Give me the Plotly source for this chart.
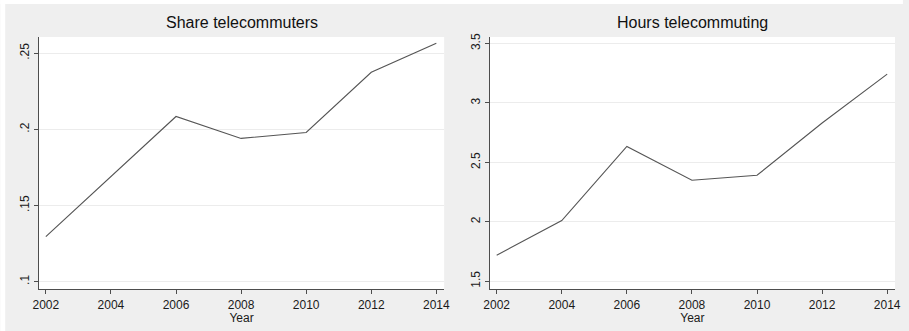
import plotly.graph_objects as go
from plotly.subplots import make_subplots

# Survey years and the two telecommuting series
years = [2002, 2004, 2006, 2008, 2010, 2012, 2014]
share_telecommuters = [0.1296, 0.169, 0.2085, 0.1941, 0.198, 0.2375, 0.2566]
hours_telecommuting = [1.718, 2.01, 2.634, 2.349, 2.391, 2.831, 3.243]

panel_titles = ["Share telecommuters", "Hours telecommuting"]
x_ticks = [2002, 2004, 2006, 2008, 2010, 2012, 2014]
share_ticks = [0.10, 0.15, 0.20, 0.25]
share_labels = [".1", ".15", ".2", ".25"]
hours_ticks = [1.5, 2.0, 2.5, 3.0, 3.5]
hours_labels = ["1.5", "2", "2.5", "3", "3.5"]

BG = "#efefef"
AXIS = "#4d4d4d"
LINE = "#555555"
GRID = "#ececec"
FONT = "Liberation Sans, Arial, sans-serif"

fig = make_subplots(rows=1, cols=2, horizontal_spacing=0.0534)

fig.add_trace(go.Scatter(x=years, y=share_telecommuters, mode="lines",
                         line=dict(color=LINE, width=1.1), showlegend=False),
              row=1, col=1)
fig.add_trace(go.Scatter(x=years, y=hours_telecommuting, mode="lines",
                         line=dict(color=LINE, width=1.1), showlegend=False),
              row=1, col=2)

common_x = dict(range=[2001.79, 2014.24], tickvals=x_ticks, ticks="outside",
                ticklen=4, tickcolor=AXIS, showline=True, linecolor=AXIS,
                linewidth=1.2, showgrid=False, zeroline=False,
                tickfont=dict(family=FONT, size=12, color="#1a1a1a"),
                title=dict(text="Year", standoff=0,
                           font=dict(family=FONT, size=12, color="#1a1a1a")))
common_y = dict(ticks="outside", ticklen=4, tickcolor=AXIS, showline=True,
                linecolor=AXIS, linewidth=1.2, showgrid=True, gridcolor=GRID,
                gridwidth=1, zeroline=False, tickangle=-90,
                tickfont=dict(family=FONT, size=12, color="#1a1a1a"))

fig.update_xaxes(domain=[0, 0.4733], **common_x, row=1, col=1)
fig.update_xaxes(domain=[0.5267, 1], **common_x, row=1, col=2)
fig.update_yaxes(range=[0.0952, 0.2607], tickvals=share_ticks,
                 ticktext=share_labels, **common_y, row=1, col=1)
fig.update_yaxes(range=[1.434, 3.555], tickvals=hours_ticks,
                 ticktext=hours_labels, **common_y, row=1, col=2)

# Panel headings centred over each plot area
for title, cx in zip(panel_titles, [0.2367, 0.7633]):
    fig.add_annotation(text=title, x=cx, y=1.0, xref="paper", yref="paper",
                       xanchor="center", yanchor="bottom", yshift=4,
                       showarrow=False,
                       font=dict(family=FONT, size=16, color="#111111"))

# Thin white edge along the top and left of the gray canvas
fig.add_shape(type="rect", xref="paper", yref="paper",
              x0=-39 / 862, x1=1 + 8 / 862, y0=1 + 33 / 252, y1=1 + 37 / 252,
              fillcolor="white", line=dict(width=0))
fig.add_shape(type="rect", xref="paper", yref="paper",
              x0=-39 / 862, x1=-34 / 862, y0=-42 / 252, y1=1 + 37 / 252,
              fillcolor="white", line=dict(width=0))

fig.update_layout(
    width=909, height=331,
    margin=dict(l=39, r=8, t=37, b=42),
    paper_bgcolor=BG,
    plot_bgcolor="white",
    showlegend=False,
)

fig.write_html("out.html")
